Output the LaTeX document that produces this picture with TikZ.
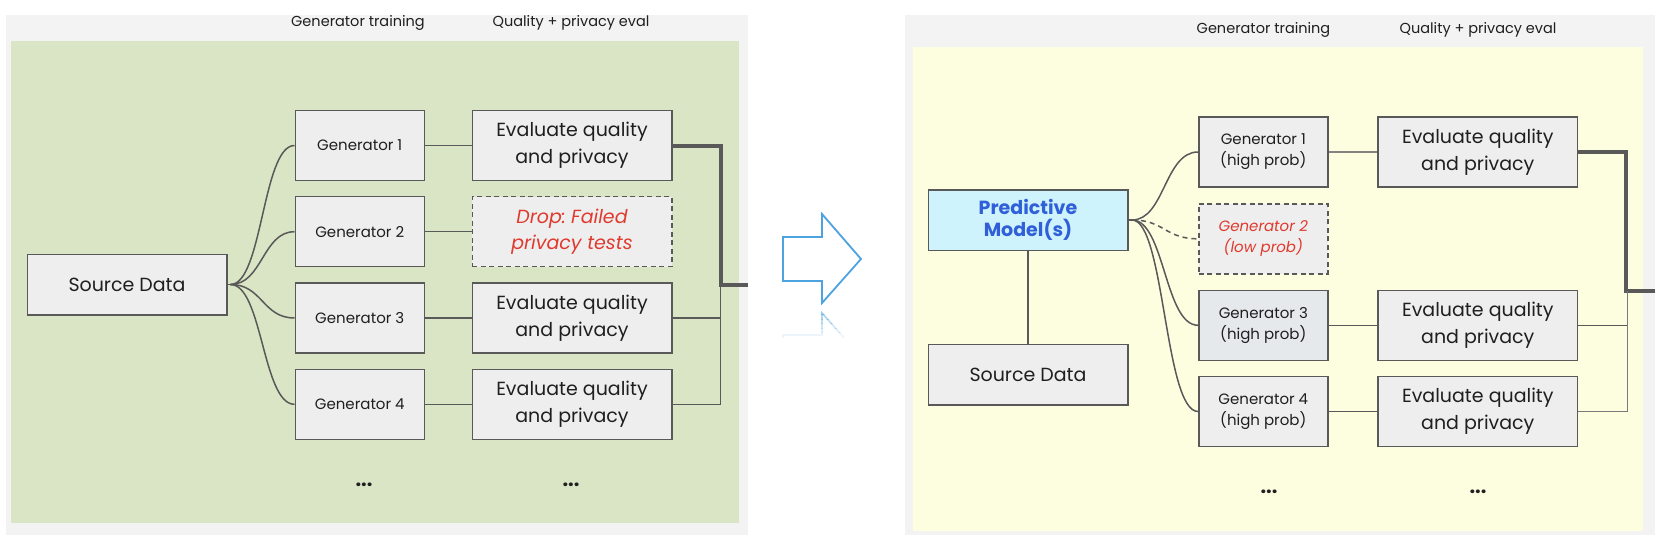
\documentclass[tikz,border=0pt]{standalone}
\usepackage{fontspec}
\setmainfont{Poppins}
\definecolor{bggray}{HTML}{F3F3F3}
\definecolor{bggreen}{HTML}{D9E5C5}
\definecolor{bgyellow}{HTML}{FDFEE0}
\definecolor{boxfill}{HTML}{EEEEEE}
\definecolor{linegray}{HTML}{595959}
\definecolor{predfill}{HTML}{CFF3FC}
\definecolor{predtext}{HTML}{2F5FD9}
\definecolor{dropred}{HTML}{E03A2E}
\definecolor{arrowblue}{HTML}{4DA3E0}
\definecolor{gthreefill}{HTML}{E6E9EC}
\definecolor{txt}{HTML}{1F1F1F}
\begin{document}
\begin{tikzpicture}[x=1pt,y=-1pt,
  box/.style={draw=linegray, fill=boxfill, line width=1.5pt, inner sep=0pt, align=center, text=txt},
  genbox/.style={box, minimum width=129pt, minimum height=70pt, font=\fontsize{15}{21}\selectfont},
  evalbox/.style={box, minimum width=199.5pt, minimum height=70pt, font=\fontsize{19}{26.7}\selectfont},
  srcbox/.style={box, minimum width=199.5pt, minimum height=60.5pt, font=\fontsize{19}{23}\selectfont},
  dropbox/.style={evalbox, dashed, dash pattern=on 5pt off 3.5pt, text=dropred, font=\fontsize{19}{26.7}\selectfont\itshape},
  title/.style={font=\fontsize{14.5}{18}\selectfont, text=txt, inner sep=0pt},
  dots/.style={font=\fontsize{20}{20}\selectfont\bfseries, text=txt, inner sep=0pt},
  conn/.style={draw=linegray, line width=1.5pt},
  bus/.style={draw=linegray, line width=4pt},
]
\useasboundingbox (0,0) rectangle (1666,546);
\fill[white] (0,0) rectangle (1666,546);
% panels
\fill[bggray] (6,14.7) rectangle (748,535);
\fill[bggreen] (11,41) rectangle (739.3,523.3);
\fill[bggray] (905,14.7) rectangle (1655,535);
\fill[bgyellow] (913,47) rectangle (1643.3,531);

% ---------------- left panel ----------------
\node[title] (tl1) at (358,22.6) {Generator training};
\node[title] (tl2) at (571,22.6) {Quality + privacy eval};

\node[srcbox] (sd) at (127,284.5) {Source Data};
\node[genbox] (g1) at (359.75,145.5) {Generator 1};
\node[genbox] (g2) at (359.75,231.7) {Generator 2};
\node[genbox] (g3) at (359.75,318) {Generator 3};
\node[genbox] (g4) at (359.75,404.3) {Generator 4};
\node[evalbox] (e1) at (572,145.5) {Evaluate quality\\and privacy};
\node[dropbox] (d2) at (572,231.7) {Drop:\kern-0.12em{} Failed\\privacy tests};
\node[evalbox] (e3) at (572,318) {Evaluate quality\\and privacy};
\node[evalbox] (e4) at (572,404.3) {Evaluate quality\\and privacy};
\node[dots] (dl1) at (364,484.5) {...};
\node[dots] (dl2) at (571,484.5) {...};

\coordinate (sdo) at (230.5,284.5);
\draw[conn] (sd.east) -- (sdo);
\draw[conn] (sdo) .. controls (262.5,284.5) and (262.5,145.5) .. (g1.west);
\draw[conn] (sdo) .. controls (262.5,284.5) and (262.5,231.7) .. (g2.west);
\draw[conn] (sdo) .. controls (262.5,284.5) and (262.5,318) .. (g3.west);
\draw[conn] (sdo) .. controls (262.5,284.5) and (262.5,404.3) .. (g4.west);
\draw[conn] (g1.east) -- (e1.west);
\draw[conn] (g2.east) -- (d2.west);
\draw[conn] (g3.east) -- (e3.west);
\draw[conn] (g4.east) -- (e4.west);

\coordinate (lbtop) at (720.5,145.5);
\coordinate (lbmid) at (720.5,284.7);
\coordinate (lbout) at (748,284.7);
\coordinate (lb3) at (720.5,318);
\coordinate (lb4) at (720.5,404.3);
\draw[bus] (e1.east) -- (lbtop) -- (lbmid) -- (lbout);
\draw[conn] (e3.east) -- (lb3);
\draw[conn] (e4.east) -- (lb4) -- (lbmid);

% ---------------- arrow ----------------
\draw[arrowblue, line width=1.8pt, line join=miter]
  (783,237) -- (822,237) -- (822,214) -- (861,259) -- (822,303) -- (822,281) -- (783,281) -- cycle;
\foreach \i/\op in {0/0.55,1/0.45,2/0.36,3/0.27,4/0.18,5/0.1}{
  \begin{scope}
    \clip (770,{310+4.5*\i}) rectangle (880,{314.5+4.5*\i});
    \draw[arrowblue, line width=1.6pt, opacity=\op]
      (783,379) -- (822,379) -- (822,402) -- (861,357) -- (822,313) -- (822,335) -- (783,335) -- cycle;
  \end{scope}
}

% ---------------- right panel ----------------
\node[title] (tr1) at (1263.5,29.6) {Generator training};
\node[title] (tr2) at (1478,29.6) {Quality + privacy eval};

\node[srcbox, fill=predfill, text=predtext, font=\fontsize{19}{22.6}\selectfont\bfseries] (pm) at (1028,220) {Predictive\\Model(s)};
\node[srcbox] (sd2) at (1028,374.7) {Source Data};
\node[genbox] (h1) at (1263.3,152) {Generator 1\\(high prob)};
\node[genbox, dashed, dash pattern=on 5pt off 3.5pt, text=dropred, font=\fontsize{15}{21}\selectfont\itshape] (h2) at (1263.3,238.8) {Generator 2\\(low prob)};
\node[genbox, fill=gthreefill] (h3) at (1263.3,325.3) {Generator 3\\(high prob)};
\node[genbox] (h4) at (1263.3,411.5) {Generator 4\\(high prob)};
\node[evalbox] (f1) at (1477.8,152) {Evaluate quality\\and privacy};
\node[evalbox] (f3) at (1477.8,325.3) {Evaluate quality\\and privacy};
\node[evalbox] (f4) at (1477.8,411.5) {Evaluate quality\\and privacy};
\node[dots] (dr1) at (1269,492) {...};
\node[dots] (dr2) at (1478,492) {...};

\draw[conn] (pm.south) -- (sd2.north);
\coordinate (pmo) at (1132,220);
\draw[conn] (pm.east) -- (pmo);
\draw[conn] (pmo) .. controls (1164.6,220) and (1164.6,152) .. (h1.west);
\draw[conn, dashed, dash pattern=on 5pt off 4pt] (pmo) .. controls (1164.6,220) and (1164.6,238.8) .. (h2.west);
\draw[conn] (pmo) .. controls (1164.6,220) and (1164.6,325.3) .. (h3.west);
\draw[conn] (pmo) .. controls (1164.6,220) and (1164.6,411.5) .. (h4.west);
\draw[conn, draw=linegray!75, line width=1.2pt] (h1.east) -- (f1.west);
\draw[conn] (h3.east) -- (f3.west);
\draw[conn] (h4.east) -- (f4.west);

\coordinate (rbtop) at (1626,152);
\coordinate (rbmid) at (1626,291.3);
\coordinate (rbout) at (1655,291.3);
\coordinate (rb3) at (1627.7,325.3);
\coordinate (rb4) at (1627.7,411.5);
\coordinate (rbm2) at (1627.7,291.3);
\draw[bus] (f1.east) -- (rbtop) -- (rbmid) -- (rbout);
\draw[conn] (f3.east) -- (rb3);
\draw[conn, draw=linegray!80] (f4.east) -- (rb4) -- (rbm2);
\end{tikzpicture}
\end{document}
